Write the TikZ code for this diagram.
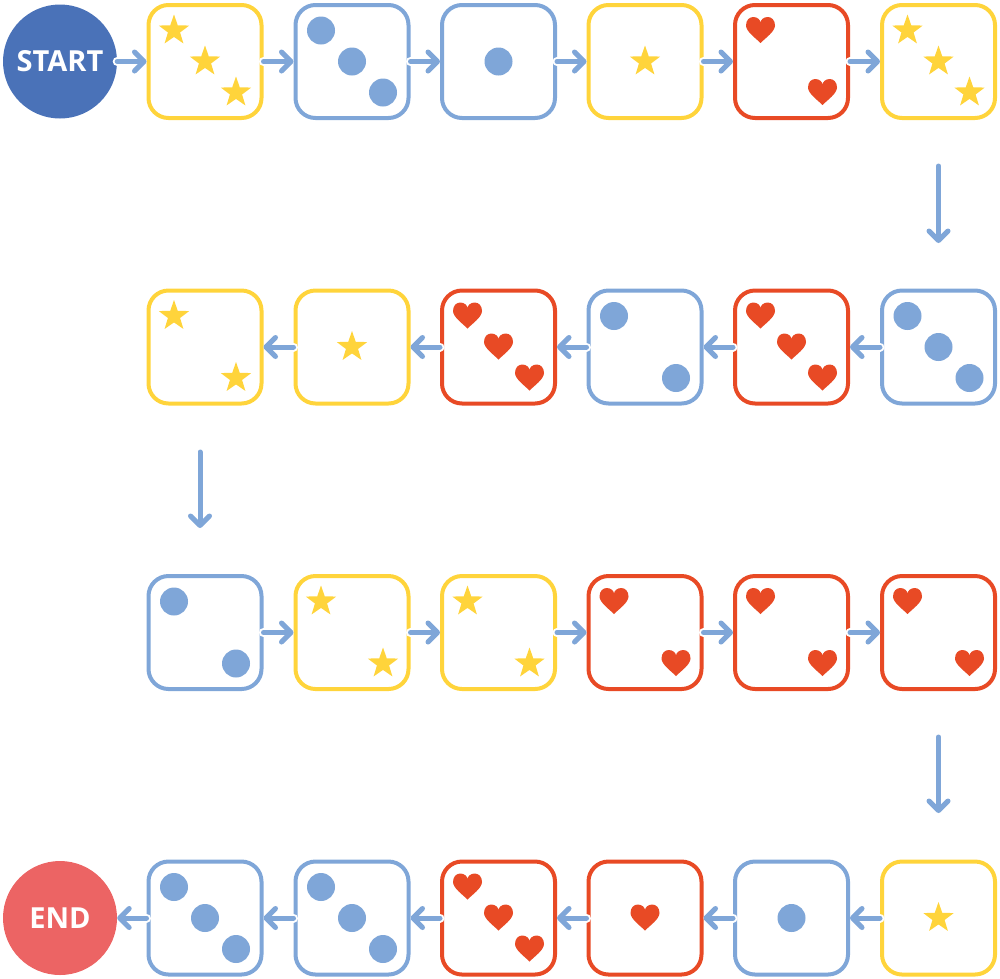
\documentclass[tikz,border=0pt]{standalone}
\usepackage{fontspec}
\setmainfont{Open Sans}
\usetikzlibrary{arrows.meta,shapes.geometric}
\definecolor{cyel}{HTML}{FFD43B}
\definecolor{cblue}{HTML}{7FA6D8}
\definecolor{cred}{HTML}{E84A25}
\definecolor{cstart}{HTML}{4A72B8}
\definecolor{cend}{HTML}{EC6464}
\tikzset{
  die/.style={draw, rounded corners=20pt, minimum size=113pt, line width=4pt, inner sep=0pt, fill=white},
  endpt/.style={circle, minimum size=114pt, inner sep=0pt, text=white, font=\bfseries\fontsize{29}{29}\selectfont},
  conn/.style={cblue, line width=5pt, line cap=round, -{Straight Barb[length=9.5pt, width=19pt, round]}},
  halo/.style={white, line width=9pt, line cap=round, -{Straight Barb[length=9.5pt, width=19pt, round, line width=9pt]}},
  pics/dotpip/.style={code={\fill[cblue] (0,0) circle (14);}},
  pics/starpip/.style={code={\node[star, star points=5, star point ratio=2.5, minimum size=32pt, inner sep=0pt, fill=cyel] at (0,0) {};}},
  pics/heartpip/.style={code={\fill[cred] (0,12.5) .. controls (-5,7.5) and (-14.5,1) .. (-14.5,-5) .. controls (-14.5,-10.5) and (-11,-13.5) .. (-7.3,-13.5) .. controls (-3,-13.5) and (0,-10.5) .. (0,-7.8) .. controls (0,-10.5) and (3,-13.5) .. (7.3,-13.5) .. controls (11,-13.5) and (14.5,-10.5) .. (14.5,-5) .. controls (14.5,1) and (5,7.5) .. (0,12.5) -- cycle;}}
}
% name, x, y, color, pip, count
\newcommand\mkdie[6]{%
  \node[die, draw=#4] (#1) at (#2,#3) {};
  \begin{scope}[shift={(#2,#3)}]
    \ifcase#6\or
      \pic at (0,0) {#5};
    \or
      \pic at (-31,-31) {#5};
      \pic at (31,31) {#5};
    \or
      \pic at (-31,-31) {#5};
      \pic at (0,0) {#5};
      \pic at (31,31) {#5};
    \fi
  \end{scope}}
\newcommand\link[2]{\draw[halo] (#1) -- (#2); \draw[conn] (#1) -- (#2);}
\begin{document}
\begin{tikzpicture}[x=1pt, y=-1pt]
\useasboundingbox (0,0) rectangle (1000,978);
% row 1
\node[endpt, fill=cstart] (start) at (60,61.5) {START};
\mkdie{a1}{205}{61.5}{cyel}{starpip}{3}
\mkdie{a2}{352}{61.5}{cblue}{dotpip}{3}
\mkdie{a3}{498.5}{61.5}{cblue}{dotpip}{1}
\mkdie{a4}{645}{61.5}{cyel}{starpip}{1}
\mkdie{a5}{791.5}{61.5}{cred}{heartpip}{2}
\mkdie{a6}{938.5}{61.5}{cyel}{starpip}{3}
% row 2
\mkdie{b6}{938.5}{347}{cblue}{dotpip}{3}
\mkdie{b5}{791.5}{347}{cred}{heartpip}{3}
\mkdie{b4}{645}{347}{cblue}{dotpip}{2}
\mkdie{b3}{498.5}{347}{cred}{heartpip}{3}
\mkdie{b2}{352}{347}{cyel}{starpip}{1}
\mkdie{b1}{205}{347}{cyel}{starpip}{2}
% row 3
\mkdie{c1}{205}{632.5}{cblue}{dotpip}{2}
\mkdie{c2}{352}{632.5}{cyel}{starpip}{2}
\mkdie{c3}{498.5}{632.5}{cyel}{starpip}{2}
\mkdie{c4}{645}{632.5}{cred}{heartpip}{2}
\mkdie{c5}{791.5}{632.5}{cred}{heartpip}{2}
\mkdie{c6}{938.5}{632.5}{cred}{heartpip}{2}
% row 4
\mkdie{d6}{938.5}{918}{cyel}{starpip}{1}
\mkdie{d5}{791.5}{918}{cblue}{dotpip}{1}
\mkdie{d4}{645}{918}{cred}{heartpip}{1}
\mkdie{d3}{498.5}{918}{cred}{heartpip}{3}
\mkdie{d2}{352}{918}{cblue}{dotpip}{3}
\mkdie{d1}{205}{918}{cblue}{dotpip}{3}
\node[endpt, fill=cend] (end) at (60,918) {END};
% horizontal connectors
\link{start}{a1}\link{a1}{a2}\link{a2}{a3}\link{a3}{a4}\link{a4}{a5}\link{a5}{a6}
\link{b6}{b5}\link{b5}{b4}\link{b4}{b3}\link{b3}{b2}\link{b2}{b1}
\link{c1}{c2}\link{c2}{c3}\link{c3}{c4}\link{c4}{c5}\link{c5}{c6}
\link{d6}{d5}\link{d5}{d4}\link{d4}{d3}\link{d3}{d2}\link{d2}{d1}\link{d1}{end}
% vertical connectors
\coordinate (v1s) at (938.5,166);
\coordinate (v1e) at (938.5,243);
\coordinate (v2s) at (200,452);
\coordinate (v2e) at (200,528);
\coordinate (v3s) at (938.5,737);
\coordinate (v3e) at (938.5,813);
\draw[conn] (v1s) -- (v1e);
\draw[conn] (v2s) -- (v2e);
\draw[conn] (v3s) -- (v3e);
\end{tikzpicture}
\end{document}
